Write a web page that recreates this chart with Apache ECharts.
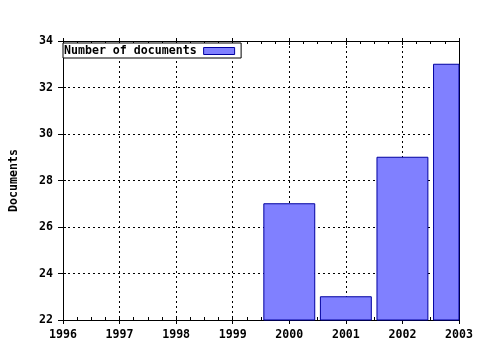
<!DOCTYPE html>
<html><head><meta charset="utf-8">
<script src="https://cdn.jsdelivr.net/npm/echarts@6/dist/echarts.min.js"></script>
<style>html,body{margin:0;padding:0;background:#fff}#c{width:480px;height:350px}</style>
</head><body><div id="c"></div>
<script>
var years = [2000, 2001, 2002, 2003];
var documents = [27, 23, 29, 33];
var seriesName = 'Number of documents';
var yTitle = 'Documents';
var yMin = 22, yMax = 34, xMin = 1996, xMax = 2003;

var FONT = '"DejaVu Sans Mono", "Liberation Mono", monospace';
var txt = {fontFamily: FONT, fontWeight: 'bold', fontSize: 11.6, color: '#000'};
var data = years.map(function (y, i) { return [y, documents[i]]; });

function xAx(pos, opts) {
  return Object.assign({
    type: 'value', min: xMin, max: xMax, interval: 1, position: pos,
    axisLine: {show: false}, axisLabel: {show: false}, splitLine: {show: false},
    axisTick: {show: false}, minorTick: {show: false}
  }, opts);
}
function yAx(pos, opts) {
  return Object.assign({
    type: 'value', min: yMin, max: yMax, interval: 2, position: pos,
    axisLine: {show: false}, axisLabel: {show: false}, splitLine: {show: false},
    axisTick: {show: false}, minorTick: {show: false}
  }, opts);
}
var axLine = {show: true, onZero: false, lineStyle: {color: '#000', width: 1}};
var tk = function (inside, len) { return {show: true, inside: inside, length: len, lineStyle: {color: '#000'}}; };
var mt = {show: true, splitNumber: 4, length: 3, lineStyle: {color: '#000'}};
var fmt = function (v) { return String(v); };

var chart = echarts.init(document.getElementById('c'), null, {renderer: 'canvas'});
chart.setOption({
  animation: false,
  backgroundColor: '#fff',
  grid: {left: 57, right: 21, top: 41, bottom: 30, containLabel: false},
  legend: {
    show: true, left: 63, top: 43, align: 'right', orient: 'horizontal',
    backgroundColor: '#fff', borderColor: '#000', borderWidth: 1,
    padding: [2, 6, 1, 1], itemWidth: 31, itemHeight: 7,
    textStyle: Object.assign({}, txt, {padding: [1, 2, 0, 0]}),
    icon: 'rect',
    data: [{name: seriesName, itemStyle: {color: '#8080ff', borderColor: '#0000a0', borderWidth: 1}}]
  },
  xAxis: [
    xAx('bottom', {axisLine: axLine, axisTick: tk(false, 4),
      axisLabel: Object.assign({show: true, margin: 9, formatter: fmt}, txt),
      splitLine: {show: true, lineStyle: {color: '#000', type: [2, 3], width: 1}}}),
    xAx('bottom', {axisTick: tk(true, 4), minorTick: mt}),
    xAx('top', {axisLine: axLine, axisTick: tk(true, 4), minorTick: mt}),
    xAx('top', {axisTick: tk(false, 3)})
  ],
  yAxis: [
    yAx('left', {axisLine: axLine, axisTick: tk(false, 5),
      axisLabel: Object.assign({show: true, margin: 10, formatter: fmt}, txt),
      name: yTitle, nameLocation: 'middle', nameGap: 43, nameRotate: 90,
      nameTextStyle: txt,
      splitLine: {show: true, lineStyle: {color: '#000', type: [2, 3], width: 1}}}),
    yAx('left', {axisTick: tk(true, 3)}),
    yAx('right', {axisLine: axLine, axisTick: tk(true, 3)})
  ],
  series: [{
    name: seriesName, type: 'custom', xAxisIndex: 0, yAxisIndex: 0,
    data: data,
    itemStyle: {color: '#8080ff', borderColor: '#0000a0', borderWidth: 1},
    encode: {x: 0, y: 1},
    renderItem: function (params, api) {
      var x = api.value(0), y = api.value(1);
      var top = api.coord([x, y]);
      var base = api.coord([x, yMin]);
      var half = api.size([0.9, 0])[0] / 2;
      var rect = {x: top[0] - half, y: top[1], width: half * 2, height: base[1] - top[1]};
      var c = params.coordSys;
      var clipped = echarts.graphic.clipRectByRect(rect, {x: c.x, y: c.y, width: c.width, height: c.height});
      if (!clipped) return null;
      return {type: 'rect', shape: clipped, style: api.style()};
    }
  }]
});
</script></body></html>
